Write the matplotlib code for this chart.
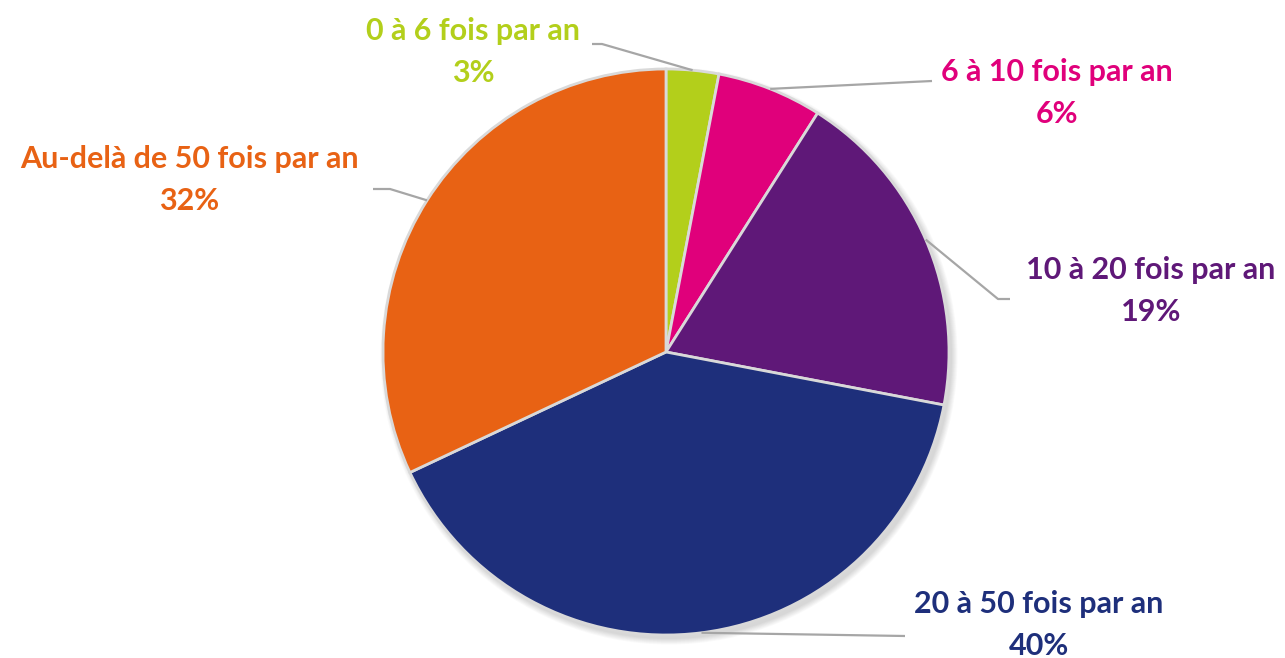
import numpy as np
import matplotlib.pyplot as plt
from matplotlib.patches import Circle

categories = ["0 à 6 fois par an", "6 à 10 fois par an", "10 à 20 fois par an",
              "20 à 50 fois par an", "Au-delà de 50 fois par an"]
shares = [3, 6, 19, 40, 32]
colors = ["#b3cf1b", "#e0007b", "#5f1878", "#1e2f7b", "#e86214"]

W, H = 1285, 658


def px(x, y):
    # image pixel coords (y down) -> data coords (y up)
    return x, H - y


# label layout: text centre, elbow of leader line, end of leader line
text_pos = [(473, 52), (1057, 93), (1151, 291), (1039, 625), (189, 180)]
elbows = [(602, 44), (932, 81), (998, 299), (905, 636), (390, 189)]
ends = [(592, 44), (932, 81), (1010, 299), (905, 636), (373, 189)]

plt.rcParams["font.family"] = ["Lato", "DejaVu Sans"]

fig = plt.figure(figsize=(W / 100, H / 100), dpi=100)
ax = fig.add_axes([0, 0, 1, 1])

cx, cy = px(666, 352)
r = 283

# soft shadow
for i in range(8):
    ax.add_patch(Circle((cx + 3, cy - 4), r + i * 0.8, color="k", alpha=0.018,
                        lw=0, zorder=0))

wedges, _ = ax.pie(shares, colors=colors, startangle=90, counterclock=False,
                   center=(cx, cy), radius=r,
                   wedgeprops=dict(edgecolor="#d9d9d9", linewidth=2))

for w, cat, val, col, tp, el, en in zip(wedges, categories, shares, colors,
                                         text_pos, elbows, ends):
    mid = np.deg2rad((w.theta1 + w.theta2) / 2)
    ax_x = cx + r * np.cos(mid)
    ax_y = cy + r * np.sin(mid)
    ex, ey = px(*el)
    nx, ny = px(*en)
    ax.plot([ax_x, ex, nx], [ax_y, ey, ny], color="#a6a6a6", lw=1.6,
            solid_capstyle="butt", zorder=1)
    tx, ty = px(*tp)
    ax.text(tx, ty, f"{cat}\n{val}%", color=col, fontsize=22, fontweight="bold",
            ha="center", va="center", multialignment="center", linespacing=1.6)

ax.set_xlim(0, W)
ax.set_ylim(0, H)
ax.set_aspect("equal")
ax.axis("off")

fig.savefig("out.png", dpi=100, facecolor="white")
